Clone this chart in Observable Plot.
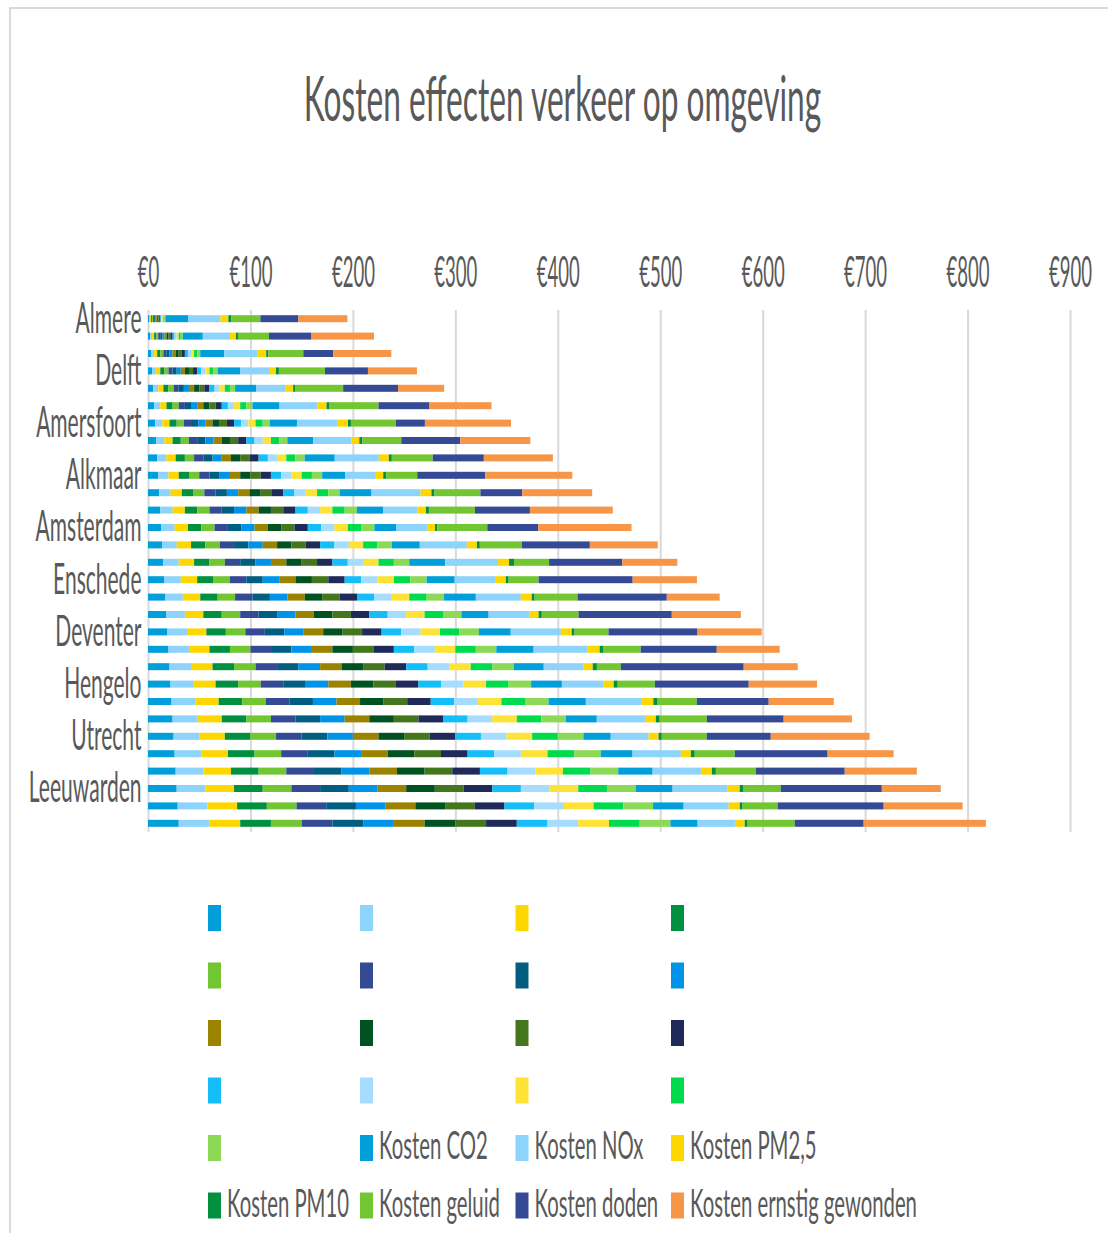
<!DOCTYPE html>
<html><head><meta charset="utf-8">
<script src="https://cdn.jsdelivr.net/npm/d3@7"></script>
<script src="https://cdn.jsdelivr.net/npm/@observablehq/plot@0.6"></script>
<style>
body{margin:0;background:#fff;}
#wrap{position:relative;width:1108px;height:1233px;overflow:hidden;font-family:Lato,"Open Sans",sans-serif;background:#fff;}
#frame{position:absolute;left:9px;top:7px;width:1200px;height:1300px;border-left:2px solid #d9d9d9;border-top:2px solid #d9d9d9;pointer-events:none;}
#wrap svg{display:block;}
</style></head><body>
<div id="wrap"></div>
<script>
// ---- data ----
const chartTitle = "Kosten effecten verkeer op omgeving";
const rowLabels = ["Almere","","","Delft","","","Amersfoort","","","Alkmaar","","","Amsterdam","","","Enschede","","","Deventer","","","Hengelo","","","Utrecht","","","Leeuwarden","",""];
const xTicks = [0,100,200,300,400,500,600,700,800,900];
// the 17 unnamed series all read the same per row
const blankValues = [1,2,3,4,5,6,7,8,9,10,11,12,13,14,15,16,17,18,19,20,21,22,23,24,25,26,27,28,29,30];
const co2 = [22.5,19.5,23.4,21.8,20.5,26.4,26.4,25.4,29.3,22.5,31.2,25.4,21.5,27.3,35.1,27.4,31,26.5,31.1,36.4,29.3,30,36.4,30.1,26.7,31,33.6,36.1,29.9,26.5];
const nox = [31.2,26.4,32.2,28.3,29,36.8,39.7,37.1,43,29.9,47.8,33.8,29.9,45.9,51.6,40.1,43.9,39.7,48.8,52.3,39,40.8,54.7,47.8,36.9,47.1,47.1,53.7,43.9,37.3];
const pm25 = [7.8,5.9,8.8,6.8,7.2,9.1,10.1,7.8,9.8,7.2,10.7,8.1,7.8,9.9,10.7,9.8,10.7,9.1,10.7,12.2,8.8,9.8,11.2,9.8,9.8,9.8,10.7,11.8,10.8,8.7];
const pm10 = [2.9,2,2,2.9,2.3,2.9,2.9,2.9,2.9,2.9,2.9,2.9,2.3,2.8,4.9,2.7,2.8,3.1,2.8,3.8,4.1,3.9,4.2,3.8,3.1,3.8,3.9,3.8,2.8,2.8];
const geluid = [28.3,30.3,34.2,44.9,46.5,47.8,43.9,38.1,40,30.3,44.9,44.9,48.7,41.1,34.2,29.3,41.9,35.9,33.1,36.3,23.4,36.2,38.3,46,43.9,39,39,36.3,34.2,46];
const doden = [37.1,41,29.3,42,53.7,49.8,28.3,57.6,49.8,66.4,40.8,53.7,49.8,66.3,71.5,91.8,87.1,91,86.9,74.2,119.9,91.7,70.1,75,62.5,90.7,86.8,98.6,103.5,67.3];
const ernstig = [47.8,61.5,56.6,47.8,44.9,60.5,84,68.3,67.4,85,68.3,80.9,91,66.3,53.7,62.7,51.6,67.4,62.7,61.4,52.7,66.6,63.5,66.6,96.5,64.4,70.4,57.6,77.1,119.3];

const seriesKeys = ["b1","b2","b3","b4","b5","b6","b7","b8","b9","b10","b11","b12","b13","b14","b15","b16","b17",
  "co2","nox","pm25","pm10","geluid","doden","ernstig"];
const seriesNames = ["","","","","","","","","","","","","","","","","",
  "Kosten CO2","Kosten NOx","Kosten PM2,5","Kosten PM10","Kosten geluid","Kosten doden","Kosten ernstig gewonden"];
const seriesColors = ["#009FDA","#8DD3FB","#FFD700","#009040","#71C631","#354A94","#015E80","#0094E8","#9B8300","#005222","#43761D","#1F2A59","#13BEF9","#A6DDFE","#FFE236","#00DB4D","#8CD857",
  "#009FDA","#8DD3FB","#FFD700","#009040","#71C631","#354A94","#F79646"];
const seriesValues = [blankValues,blankValues,blankValues,blankValues,blankValues,blankValues,blankValues,blankValues,blankValues,blankValues,blankValues,blankValues,blankValues,blankValues,blankValues,blankValues,blankValues,
  co2,nox,pm25,pm10,geluid,doden,ernstig];

// ---- build ----
const table = [];
rowLabels.forEach((lab, i) => seriesValues.forEach((vals, s) => table.push({row: i, key: seriesKeys[s], value: vals[i]})));
const rowIdx = rowLabels.map((_, i) => i);
const labeledRows = rowIdx.filter(i => rowLabels[i] !== "");

const FONT = "Lato";
const TEXT = "#595959";
const ctx = document.createElement("canvas").getContext("2d");
function measure(str, size) { ctx.font = `${size}px ${FONT}`; return ctx.measureText(str).width; }
function squeeze(t, k) {
  const x = +t.getAttribute("x") || 0, y = +t.getAttribute("y") || 0;
  const tr = t.getAttribute("transform") || "";
  t.setAttribute("transform", `${tr} translate(${x},${y}) scale(${k},1) translate(${-x},${-y})`);
}

const wrap = document.getElementById("wrap");

// title
const kTitle = 519 / measure(chartTitle, 61);
const titleSvg = d3.create("svg").attr("width", 1108).attr("height", 200);
titleSvg.append("text").attr("transform", `translate(562.5,121) scale(${kTitle},1)`)
  .attr("text-anchor", "middle").attr("font-family", FONT).attr("font-size", 61).attr("fill", TEXT)
  .text(chartTitle);
wrap.appendChild(titleSvg.node());

// plot
const plot = Plot.plot({
  width: 1108, height: 660,
  marginTop: 110, marginBottom: 28, marginLeft: 148, marginRight: 38,
  style: {fontFamily: FONT, fontSize: "42px", color: TEXT, background: "transparent"},
  x: {domain: [0, 900]},
  y: {domain: rowIdx, padding: 0, round: false},
  color: {domain: seriesKeys, range: seriesColors},
  marks: [
    Plot.gridX(xTicks, {stroke: "#d9d9d9", strokeOpacity: 1, strokeWidth: 2}),
    Plot.barX(table, {x: "value", y: "row", fill: "key", insetTop: 5.2, insetBottom: 5.2}),
    Plot.axisX(xTicks, {anchor: "top", tickSize: 0, tickPadding: 24, tickFormat: d => "€" + d, label: null}),
    Plot.axisY(labeledRows, {anchor: "left", tickSize: 0, tickPadding: 7, tickFormat: i => rowLabels[i], label: null})
  ]
});
wrap.appendChild(plot);
const kX = 43 / measure("€100", 42);
const kY = 106 / measure("Amsterdam", 42);
plot.querySelectorAll('g[aria-label="x-axis tick label"] text').forEach(t => squeeze(t, kX));
plot.querySelectorAll('g[aria-label="y-axis tick label"] text').forEach(t => squeeze(t, kY));

// legend
const kL = 227 / measure("Kosten ernstig gewonden", 39);
const colX = [208, 360, 515.5, 671];
const legSvg = d3.create("svg").attr("width", 1108).attr("height", 373);
seriesKeys.forEach((key, i) => {
  const cx = colX[i % 4], top = 45 + Math.floor(i / 4) * 57.5;
  legSvg.append("rect").attr("x", cx).attr("y", top).attr("width", 13).attr("height", 26).attr("fill", seriesColors[i]);
  if (seriesNames[i]) {
    legSvg.append("text").attr("transform", `translate(${cx + 19},${top + 24}) scale(${kL},1)`)
      .attr("font-family", FONT).attr("font-size", 39).attr("fill", TEXT).text(seriesNames[i]);
  }
});
wrap.appendChild(legSvg.node());

const frame = document.createElement("div");
frame.id = "frame";
wrap.appendChild(frame);
</script>
</body></html>
